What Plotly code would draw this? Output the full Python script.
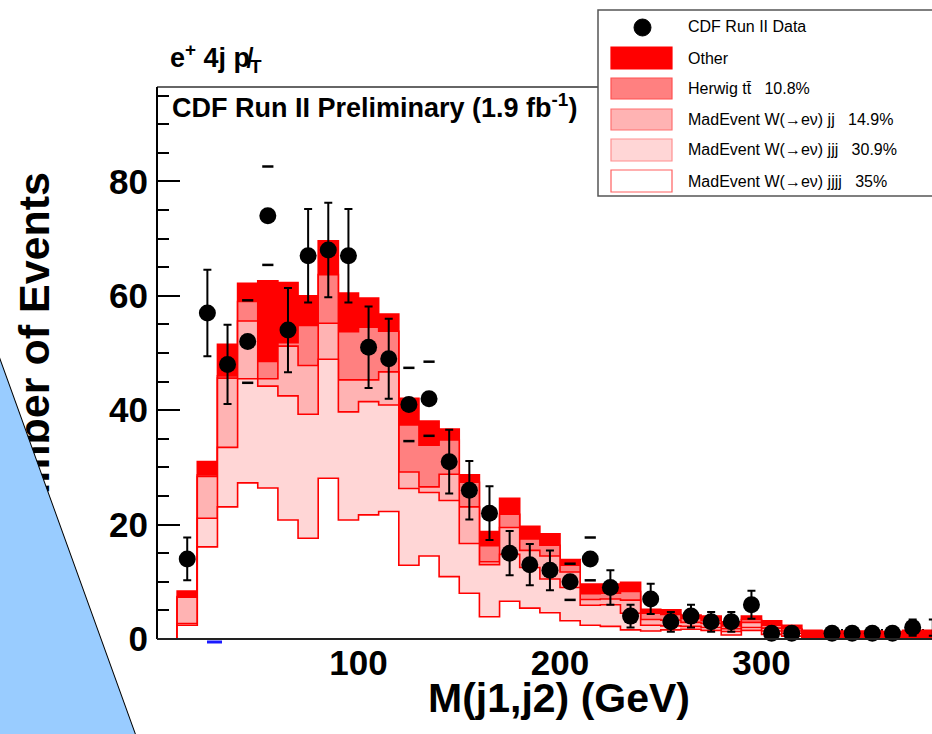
import numpy as np
import plotly.graph_objects as go

# Lower edges of the 10 GeV dijet-mass bins
bin_low = [10, 20, 30, 40, 50, 60, 70, 80, 90, 100, 110, 120, 130, 140, 150, 160, 170, 180, 190,
           200, 210, 220, 230, 240, 250, 260, 270, 280, 290, 300, 310, 320, 330, 340, 350, 360, 370, 380]
bin_width = 10

# Observed events per bin
data_counts = [14, 57, 48, 52, 74, 54, 67, 68, 67, 51, 49, 41, 42, 31, 26, 22, 15, 13, 12,
               10, 14, 9, 4, 7, 3, 4, 3, 3, 6, 1, 1, 0, 1, 1, 1, 1, 2, 2]
# bins whose error bar shows only its end caps
caps_only_bins = [40, 50, 120, 130, 200, 210]

# Expected events per process (stacked bottom to top)
w4j = [2.4, 16.1, 23.1, 27.3, 26.4, 20.8, 17.6, 28.1, 20.8, 21.7, 22.3, 12.9, 14.5, 10.9, 8.0, 3.9, 6.6, 5.4, 4.6,
       3.2, 2.4, 2.2, 1.6, 1.4, 1.6, 1.7, 1.5, 0.7, 1.5, 0.8, 0.5, 0.2, 0.2, 0.2, 0.2, 0.2, 0.2, 0.2]
w3j = [0.3, 5.0, 10.4, 18.2, 17.8, 21.7, 21.7, 20.8, 18.9, 19.8, 18.6, 13.4, 11.1, 13.3, 8.7, 9.1, 8.2, 7.1, 5.9,
       5.8, 3.5, 3.8, 2.9, 1.0, 0.7, 0.5, 0.5, 0.6, 0.5, 0.6, 0.5, 0.1, 0.2, 0.2, 0.2, 0.2, 0.2, 0.2]
w2j = [4.6, 7.3, 12.1, 10.1, 1.3, 8.7, 8.5, 6.3, 5.6, 3.8, 5.8, 2.9, 1.0, 4.6, 6.4, 0.5, 4.7, 3.0, 4.0,
       2.7, 1.0, 1.0, 2.3, 1.0, 1.0, 0.7, 0.7, 0.5, 0.9, 0.5, 0.4, 0.1, 0.2, 0.2, 0.2, 0.1, 0.2, 0.2]
ttbar = [0.1, 0.3, 0.4, 3.4, 3.0, 0.6, 7.0, 8.5, 8.4, 9.2, 7.1, 8.2, 7.3, 6.0, 4.3, 2.8, 2.3, 2.0, 1.9,
         1.2, 1.0, 1.0, 1.5, 1.1, 1.0, 0.7, 0.6, 0.5, 0.5, 0.5, 0.4, 0.2, 0.2, 0.2, 0.2, 0.2, 0.2, 0.2]
other = [1.0, 2.3, 5.5, 3.2, 14.1, 10.5, 5.2, 5.9, 6.8, 5.1, 3.0, 4.7, 4.2, 1.9, 1.3, 2.5, 2.8, 2.2, 2.0,
         1.0, 1.7, 1.6, 1.6, 0.7, 0.8, 0.6, 0.7, 0.7, 0.6, 0.8, 0.6, 0.9, 0.6, 0.6, 0.6, 0.6, 0.7, 0.7]

legend_labels = [
    "CDF Run II Data",
    "Other",
    "Herwig tt\u0304   10.8%",
    "MadEvent W(\u2192e\u03bd) jj   14.9%",
    "MadEvent W(\u2192e\u03bd) jjj   30.9%",
    "MadEvent W(\u2192e\u03bd) jjjj   35%",
]

# ---- page geometry (pixels) ----
W, H = 932, 734
ML, MR, MT, MB = 157, 0, 87, 95
PW, PH = W - ML - MR, H - MT - MB
X_MAX = 384.6
Y_MAX = 96.5
FONT = "Liberation Sans"


def px(x):
    return (x - ML) / PW


def py(y):
    return (H - MB - y) / PH


fig = go.Figure()

# ---- stacked histograms, drawn from the full stack down to the bottom layer ----
layers = [w4j, w3j, w2j, ttbar, other]
fills = ["#ffffff", "#ffd6d6", "#ffb3b3", "#ff8080", "#ff0000"]
stack = np.cumsum(np.array(layers), axis=0)
edges = list(bin_low) + [bin_low[-1] + bin_width]
for level, fill in zip(stack[::-1], fills[::-1]):
    xs = [edges[0]] + edges
    ys = [0.0] + list(level) + [float(level[-1])]
    fig.add_trace(go.Scatter(
        x=xs, y=ys, mode="lines", line=dict(shape="hv", color="#ff0000", width=1.6),
        fill="tozeroy", fillcolor=fill, hoverinfo="skip"))

# ---- data points ----
centers = np.array(bin_low) + bin_width / 2
counts = np.array(data_counts, dtype=float)
nonzero = counts > 0
caps = np.isin(np.array(bin_low), caps_only_bins)
full = nonzero & ~caps
capped = nonzero & caps

fig.add_trace(go.Scatter(
    x=centers[full], y=counts[full], mode="markers",
    marker=dict(color="black", size=17),
    error_y=dict(type="data", array=np.sqrt(counts[full]), color="black", thickness=2, width=4),
    cliponaxis=False, hoverinfo="skip"))
err_c = np.sqrt(counts[capped])
fig.add_trace(go.Scatter(
    x=np.concatenate([centers[capped], centers[capped]]),
    y=np.concatenate([counts[capped] + err_c, counts[capped] - err_c]),
    mode="markers", marker=dict(symbol="line-ew", size=8, line=dict(color="black", width=2.5)),
    hoverinfo="skip"))
fig.add_trace(go.Scatter(
    x=centers[capped], y=counts[capped], mode="markers",
    marker=dict(color="black", size=17), cliponaxis=False, hoverinfo="skip"))

# ---- axes ----
tickfont = dict(family=FONT, size=35, color="black", weight="bold")
fig.update_xaxes(
    range=[0, X_MAX], showgrid=False, zeroline=False, showline=False,
    tickmode="array", tickvals=[100, 200, 300], ticks="inside", ticklen=12, tickwidth=2,
    tickcolor="black", tickfont=tickfont, layer="below traces",
    minor=dict(tickmode="linear", tick0=0, dtick=20, ticks="inside", ticklen=10,
               tickwidth=1.5, tickcolor="black"))
fig.update_yaxes(
    range=[0, Y_MAX], showgrid=False, zeroline=False, showline=False,
    tickmode="array", tickvals=[0, 20, 40, 60, 80], ticks="inside", ticklen=23, tickwidth=2,
    tickcolor="black", tickfont=tickfont, ticklabelstandoff=8, layer="below traces",
    minor=dict(tickmode="linear", tick0=0, dtick=5, ticks="inside", ticklen=12,
               tickwidth=1.5, tickcolor="black"))

shapes = []
# frame
shapes.append(dict(type="line", xref="paper", yref="paper", x0=0, x1=1.05, y0=1, y1=1,
                   line=dict(color="#333333", width=1.5)))
shapes.append(dict(type="line", xref="paper", yref="paper", x0=0, x1=0, y0=0, y1=1,
                   line=dict(color="black", width=2)))
shapes.append(dict(type="line", xref="paper", yref="paper", x0=0, x1=1.05, y0=0, y1=0,
                   line=dict(color="#222222", width=2.2)))
# small blue mark below the axis
shapes.append(dict(type="line", xref="paper", yref="paper", x0=px(207), x1=px(222), y0=py(642), y1=py(642),
                   line=dict(color="#1a1aff", width=3)))
# legend box
shapes.append(dict(type="rect", xref="paper", yref="paper", x0=px(598), x1=px(1000), y0=py(196), y1=py(10),
                   line=dict(color="#555555", width=1.5), fillcolor="white"))
shapes.append(dict(type="circle", xref="paper", yref="paper", x0=px(634), x1=px(651), y0=py(36), y1=py(19),
                   line=dict(color="black", width=1), fillcolor="black"))
swatch_rows = [(47, 69), (78, 99), (109, 130), (139, 161), (170, 192)]
swatch_fill = fills[::-1]
swatch_line = ["#ff0000", "#ff5050", "#ff7070", "#ff9090", "#ff6060"]
for (top, bot), fc, lc in zip(swatch_rows, swatch_fill, swatch_line):
    shapes.append(dict(type="rect", xref="paper", yref="paper", x0=px(611), x1=px(672),
                       y0=py(bot), y1=py(top), line=dict(color=lc, width=1.2), fillcolor=fc))
for s in shapes:
    s["layer"] = "above"
fig.update_layout(shapes=shapes)

annotations = []
# y-axis title (drawn first so the blue panel sits on top of it)
annotations.append(dict(text="Number of Events", xref="paper", yref="paper", x=px(34), y=py(356),
                        xanchor="center", yanchor="middle", textangle=-90, showarrow=False,
                        font=dict(family=FONT, size=43, color="black", weight="bold")))
# light-blue panel with a diagonal edge across the lower-left corner
annotations.append(dict(text=" ", xref="paper", yref="paper", x=px(-308.7), y=py(682.8),
                        xanchor="center", yanchor="middle", textangle=70.15, showarrow=False,
                        width=1400, height=800, bgcolor="#99ccff", bordercolor="black",
                        borderwidth=1, borderpad=0))
annotations.append(dict(text="M(j1,j2) (GeV)", xref="paper", yref="paper", x=px(559), y=py(698),
                        xanchor="center", yanchor="middle", showarrow=False,
                        font=dict(family=FONT, size=41, color="black", weight="bold")))
annotations.append(dict(text="e<sup>+</sup> 4j p\u0338<sub>T</sub>", xref="paper", yref="paper",
                        x=px(168), y=py(58), xanchor="left", yanchor="middle", showarrow=False,
                        font=dict(family=FONT, size=27, color="black", weight="bold")))
annotations.append(dict(text="CDF Run II Preliminary (1.9 fb<sup>-1</sup>)", xref="paper", yref="paper",
                        x=px(170), y=py(106), xanchor="left", yanchor="middle", showarrow=False,
                        font=dict(family=FONT, size=27, color="black", weight="bold")))
legend_y = [27, 58, 88, 119, 150, 181]
for label, ly in zip(legend_labels, legend_y):
    annotations.append(dict(text=label, xref="paper", yref="paper", x=px(686), y=py(ly),
                            xanchor="left", yanchor="middle", showarrow=False,
                            font=dict(family=FONT, size=16, color="black")))
fig.update_layout(annotations=annotations)

fig.update_layout(
    width=W, height=H, margin=dict(l=ML, r=MR, t=MT, b=MB, pad=0),
    paper_bgcolor="white", plot_bgcolor="white", showlegend=False,
)

fig.write_html("out.html")
